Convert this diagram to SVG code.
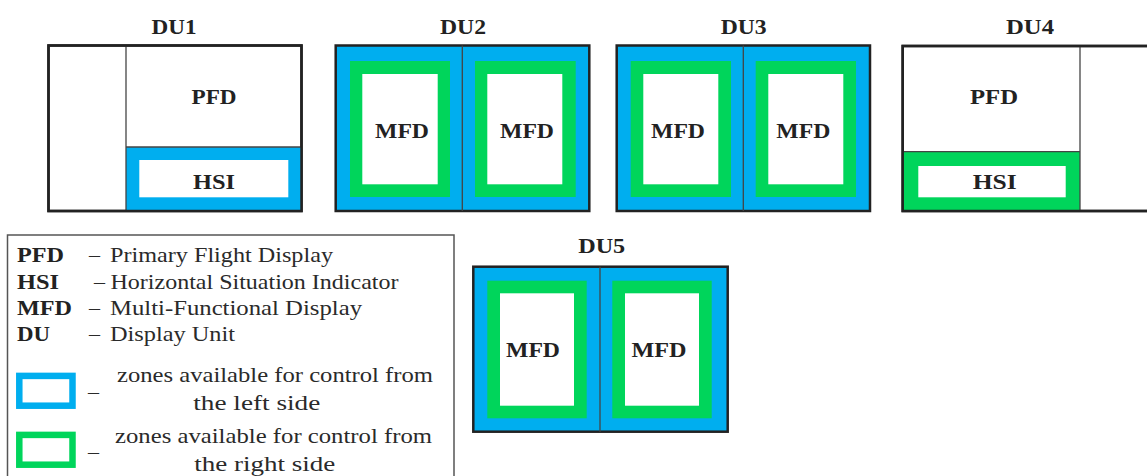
<svg xmlns="http://www.w3.org/2000/svg" width="1147" height="476" viewBox="0 0 1147 476">
<style>
.frame{fill:#fff;stroke:#222;stroke-width:2.5}
.div{stroke:#444;stroke-width:1.3;fill:none}
.blue{fill:#00AEEF}
.green{fill:#00D55B}
.white{fill:#fff}
.b{font-family:"Liberation Serif","Times New Roman",serif;font-weight:bold;font-size:21px;fill:#222;text-anchor:middle}
.bl{font-family:"Liberation Serif","Times New Roman",serif;font-weight:bold;font-size:21px;fill:#222}
.r{font-family:"Liberation Serif","Times New Roman",serif;font-size:22px;fill:#2a2a2a}
.z{font-family:"Liberation Serif","Times New Roman",serif;font-size:22px;fill:#2a2a2a}
</style>
<rect width="1147" height="476" fill="#fff"/>

<g id="DU1">
<text class="b" x="174" y="34" textLength="45" lengthAdjust="spacingAndGlyphs">DU1</text>
<rect class="frame" x="48.5" y="45.5" width="253" height="165.5"/>
<rect class="blue" x="126" y="147" width="175.5" height="64"/>
<rect class="white" x="139.3" y="160" width="149" height="37.3"/>
<line class="div" x1="126" y1="45.5" x2="126" y2="211"/>
<line class="div" x1="126" y1="147" x2="301.5" y2="147"/>
<rect x="48.5" y="45.5" width="253" height="165.5" fill="none" stroke="#222" stroke-width="2.5"/>
<text class="b" x="214" y="103.5" textLength="45" lengthAdjust="spacingAndGlyphs">PFD</text>
<text class="b" x="214" y="188.5" textLength="42" lengthAdjust="spacingAndGlyphs">HSI</text>
</g>

<g id="DU2">
<text class="b" x="463" y="34" textLength="46" lengthAdjust="spacingAndGlyphs">DU2</text>
<rect class="frame" x="335.7" y="45.5" width="253.6" height="165.5" style="fill:#00AEEF"/>
<rect class="green" x="350" y="61" width="100" height="136"/>
<rect class="white" x="362.3" y="74" width="75.4" height="110.3"/>
<rect class="green" x="475" y="61" width="100.7" height="136"/>
<rect class="white" x="487.3" y="74" width="75" height="110.3"/>
<line class="div" x1="462.3" y1="45.5" x2="462.3" y2="211"/>
<text class="b" x="402" y="137.7" textLength="54" lengthAdjust="spacingAndGlyphs">MFD</text>
<text class="b" x="527" y="137.7" textLength="54" lengthAdjust="spacingAndGlyphs">MFD</text>
</g>

<g id="DU3">
<text class="b" x="743.7" y="34" textLength="46" lengthAdjust="spacingAndGlyphs">DU3</text>
<rect class="frame" x="616.7" y="45.5" width="253.3" height="165.5" style="fill:#00AEEF"/>
<rect class="green" x="630.7" y="61" width="100.3" height="136"/>
<rect class="white" x="643.3" y="74" width="75" height="110.3"/>
<rect class="green" x="755.7" y="61" width="100.3" height="136"/>
<rect class="white" x="768.3" y="74" width="75" height="110.3"/>
<line class="div" x1="743.3" y1="45.5" x2="743.3" y2="211"/>
<text class="b" x="678" y="137.7" textLength="54" lengthAdjust="spacingAndGlyphs">MFD</text>
<text class="b" x="803.3" y="137.7" textLength="54" lengthAdjust="spacingAndGlyphs">MFD</text>
</g>

<g id="DU4">
<text class="b" x="1030" y="34" textLength="48" lengthAdjust="spacingAndGlyphs">DU4</text>
<rect class="frame" x="902.7" y="46" width="260" height="165"/>
<rect class="green" x="903" y="151.7" width="177" height="59.3"/>
<rect class="white" x="918.3" y="166" width="147.4" height="31.3"/>
<line class="div" x1="1080" y1="46" x2="1080" y2="211"/>
<line class="div" x1="902.7" y1="151.7" x2="1080" y2="151.7"/>
<rect x="902.7" y="46" width="260" height="165" fill="none" stroke="#222" stroke-width="2.5"/>
<text class="b" x="994" y="103.5" textLength="48" lengthAdjust="spacingAndGlyphs">PFD</text>
<text class="b" x="994.7" y="188.5" textLength="44" lengthAdjust="spacingAndGlyphs">HSI</text>
</g>

<g id="DU5">
<text class="b" x="601.7" y="253" textLength="47" lengthAdjust="spacingAndGlyphs">DU5</text>
<rect class="frame" x="473.3" y="266.7" width="254.4" height="165" style="fill:#00AEEF"/>
<rect class="green" x="487.3" y="280.7" width="99.4" height="137.6"/>
<rect class="white" x="500" y="293.3" width="74" height="112.4"/>
<rect class="green" x="612.3" y="280.7" width="99.4" height="137.6"/>
<rect class="white" x="625" y="293.3" width="74" height="112.4"/>
<line class="div" x1="600" y1="266.7" x2="600" y2="431.7"/>
<text class="b" x="533" y="356.7" textLength="54" lengthAdjust="spacingAndGlyphs">MFD</text>
<text class="b" x="659" y="356.7" textLength="55" lengthAdjust="spacingAndGlyphs">MFD</text>
</g>

<g id="legend">
<rect x="7.5" y="235" width="446.5" height="250" fill="#fff" stroke="#555" stroke-width="1.5"/>
<text class="bl" x="17" y="262" textLength="47" lengthAdjust="spacingAndGlyphs">PFD</text>
<text class="r" x="89" y="262">–</text>
<text class="r" x="110" y="262" textLength="223" lengthAdjust="spacingAndGlyphs">Primary Flight Display</text>
<text class="bl" x="17" y="289" textLength="42" lengthAdjust="spacingAndGlyphs">HSI</text>
<text class="r" x="94" y="289">–</text>
<text class="r" x="110.5" y="289" textLength="288" lengthAdjust="spacingAndGlyphs">Horizontal Situation Indicator</text>
<text class="bl" x="17" y="315" textLength="55" lengthAdjust="spacingAndGlyphs">MFD</text>
<text class="r" x="89" y="315">–</text>
<text class="r" x="110" y="315" textLength="252" lengthAdjust="spacingAndGlyphs">Multi-Functional Display</text>
<text class="bl" x="17" y="341" textLength="33" lengthAdjust="spacingAndGlyphs">DU</text>
<text class="r" x="89" y="341">–</text>
<text class="r" x="110" y="341" textLength="125" lengthAdjust="spacingAndGlyphs">Display Unit</text>

<rect x="19.3" y="375.9" width="53.2" height="29.8" fill="none" stroke="#00AEEF" stroke-width="6.5"/>
<text class="r" x="88" y="399">–</text>
<text class="z" x="117" y="382" textLength="316" lengthAdjust="spacingAndGlyphs">zones available for control from</text>
<text class="z" x="193.3" y="410" textLength="127" lengthAdjust="spacingAndGlyphs">the left side</text>

<rect x="19.3" y="434.9" width="53.2" height="29.8" fill="none" stroke="#00D55B" stroke-width="6.5"/>
<text class="r" x="88" y="459">–</text>
<text class="z" x="115" y="443.3" textLength="317" lengthAdjust="spacingAndGlyphs">zones available for control from</text>
<text class="z" x="194.3" y="470.5" textLength="141" lengthAdjust="spacingAndGlyphs">the right side</text>
</g>

<g id="connectors"/>
</svg>
